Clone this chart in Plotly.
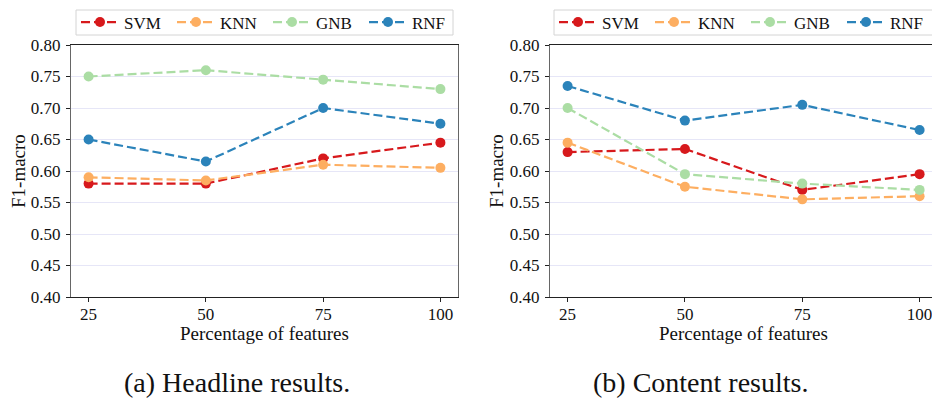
import plotly.graph_objects as go

x_vals = [25, 50, 75, 100]
models = ["SVM", "KNN", "GNB", "RNF"]
colors = {"SVM": "#d7191c", "KNN": "#fdae61", "GNB": "#abdda4", "RNF": "#2b83ba"}

headline = {
    "SVM": [0.58, 0.58, 0.62, 0.645],
    "KNN": [0.59, 0.585, 0.61, 0.605],
    "GNB": [0.75, 0.76, 0.745, 0.73],
    "RNF": [0.65, 0.615, 0.70, 0.675],
}
content = {
    "SVM": [0.63, 0.635, 0.57, 0.595],
    "KNN": [0.645, 0.575, 0.555, 0.56],
    "GNB": [0.70, 0.595, 0.58, 0.57],
    "RNF": [0.735, 0.68, 0.705, 0.665],
}
y_ticks = [0.40, 0.45, 0.50, 0.55, 0.60, 0.65, 0.70, 0.75, 0.80]
captions = ["(a) Headline results.", "(b) Content results."]
x_title = "Percentage of features"
y_title = "F1-macro"

W, H = 932, 401
FONT = "'Liberation Serif', 'Times New Roman', Times, serif"
TXT = "#111"

def px_x(p):
    return p / W

def px_y(p):
    return 1 - p / H

fig = go.Figure()
for i, (data, legend) in enumerate([(headline, "legend"), (content, "legend2")]):
    xa = "x" if i == 0 else "x2"
    ya = "y" if i == 0 else "y2"
    for m in models:
        fig.add_trace(go.Scatter(
            x=x_vals, y=data[m], name=m, mode="lines+markers",
            line=dict(color=colors[m], width=2.2, dash="9px,4px"),
            marker=dict(color=colors[m], size=10),
            xaxis=xa, yaxis=ya, legend=legend,
        ))

top, bottom = 45, 297
ydom = [px_y(bottom), px_y(top)]

xaxis_common = dict(
    tickfont=dict(family=FONT, size=17, color=TXT),
    ticks="outside", ticklen=4, tickcolor="#222", tickwidth=1,
    showgrid=False, zeroline=False, automargin=False,
    range=[21.25, 103.75], tickvals=x_vals,
    showline=True, linecolor="#222", linewidth=1.2, mirror=True,
    ticklabelstandoff=-3, ticklabeloverflow="allow",
)
yaxis_common = dict(
    tickfont=dict(family=FONT, size=17, color=TXT),
    ticks="outside", ticklen=4, tickcolor="#222", tickwidth=1,
    range=[0.4, 0.8], tickvals=y_ticks,
    ticktext=[f"{v:.2f}" for v in y_ticks],
    showgrid=True, gridcolor="#e6e6f7", gridwidth=1, zeroline=False,
    showline=True, linecolor="#666", linewidth=1.2, automargin=False,
    ticklabelstandoff=2,
)

legend_common = dict(
    orientation="h", xanchor="left", yanchor="middle",
    borderwidth=0, bgcolor="rgba(0,0,0,0)",
    font=dict(family=FONT, size=17, color=TXT),
    entrywidth=43, entrywidthmode="pixels", itemwidth=38, tracegroupgap=0,
)

fig.update_layout(
    width=W, height=H,
    margin=dict(l=0, r=0, t=0, b=0, autoexpand=False),
    plot_bgcolor="white", paper_bgcolor="white",
    xaxis=dict(domain=[px_x(71), px_x(458)], anchor="y", **xaxis_common),
    yaxis=dict(domain=ydom, anchor="x", mirror=True, **yaxis_common),
    xaxis2=dict(domain=[px_x(550), 1.0], anchor="y2", **xaxis_common),
    yaxis2=dict(domain=ydom, anchor="x2", mirror=False, **yaxis_common),
    legend=dict(x=px_x(76), y=px_y(22.5), **legend_common),
    legend2=dict(x=px_x(554), y=px_y(22.5), **legend_common),
    showlegend=True,
)
fig.update_layout(xaxis2_range=[21.25, 21.25 + (932 - 550) / (919 - 567) * 75])

# legend frames
for x0, x1 in [(76, 453), (554, 940)]:
    fig.add_shape(type="rect", xref="paper", yref="paper",
                  x0=px_x(x0), x1=px_x(x1), y0=px_y(35), y1=px_y(10),
                  line=dict(color="#d4d4d4", width=1), fillcolor="rgba(0,0,0,0)",
                  layer="below")

# axis titles and captions
for cx_plot, cy_label, cx_cap, cap in [(264.5, 18, 237, captions[0]), (743, 496, 700, captions[1])]:
    fig.add_annotation(text=x_title, x=px_x(cx_plot), y=px_y(333), xref="paper", yref="paper",
                       showarrow=False, xanchor="center", yanchor="middle",
                       font=dict(family=FONT, size=19, color=TXT))
    fig.add_annotation(text=y_title, x=px_x(cy_label), y=px_y(171), xref="paper", yref="paper",
                       showarrow=False, xanchor="center", yanchor="middle", textangle=-90,
                       font=dict(family=FONT, size=19, color=TXT))
    fig.add_annotation(text=cap, x=px_x(cx_cap), y=px_y(382), xref="paper", yref="paper",
                       showarrow=False, xanchor="center", yanchor="middle",
                       font=dict(family=FONT, size=28, color=TXT))

fig.write_html(
    "out.html",
    config={"displayModeBar": False},
    post_script="document.body.style.margin='0';document.documentElement.style.overflow='hidden';document.body.style.overflow='hidden';",
)
